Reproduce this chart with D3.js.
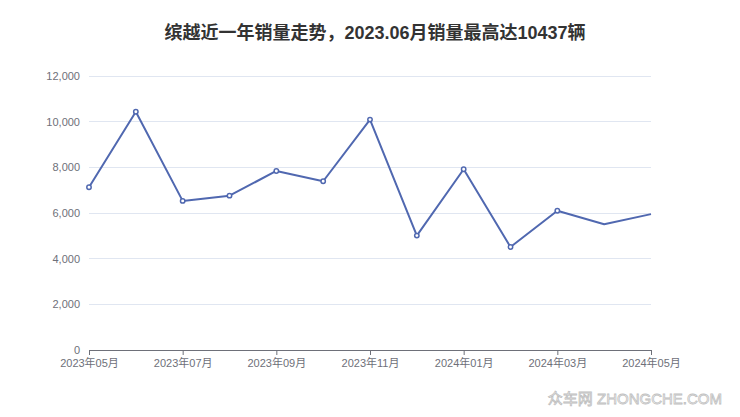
<!DOCTYPE html>
<html><head><meta charset="utf-8">
<script src="https://cdn.jsdelivr.net/npm/d3@7/dist/d3.min.js"></script>
<style>body{margin:0;background:#fff;}svg{display:block;font-family:"Liberation Sans","Noto Sans CJK SC",sans-serif;}</style>
</head><body><svg id="c" width="740" height="417"></svg>
<script>
const title = "缤越近一年销量走势，2023.06月销量最高达10437辆";
const months = ["2023年05月","2023年06月","2023年07月","2023年08月","2023年09月","2023年10月","2023年11月","2023年12月","2024年01月","2024年02月","2024年03月","2024年04月","2024年05月"];
const sales = [7130,10437,6530,6760,7840,7390,10090,5010,7915,4510,6100,5505,5950];
const showSymbol = [true,true,true,true,true,true,true,true,true,true,true,false,false];
const yTicks = [0,2000,4000,6000,8000,10000,12000];

const svg = d3.select("#c");
const m = {l:89, r:651, t:76, b:350};
const x = d3.scalePoint().domain(months).range([m.l, m.r]);
const y = d3.scaleLinear().domain([0,12000]).range([m.b, m.t]);

svg.append("text").attr("x",375).attr("y",39).attr("text-anchor","middle")
  .attr("font-size",18).attr("font-weight","bold").attr("fill","#333")
  .text(title);

// grid
svg.append("g").selectAll("line").data(yTicks.filter(d=>d>0)).join("line")
  .attr("x1",m.l).attr("x2",m.r).attr("y1",d=>y(d)).attr("y2",d=>y(d))
  .attr("stroke","#E0E6F1").attr("stroke-width",1).attr("shape-rendering","crispEdges");

// y axis labels
const yAxis = d3.axisLeft(y).tickValues(yTicks).tickSize(0).tickPadding(9).tickFormat(d3.format(","));
const gy = svg.append("g").attr("transform",`translate(${m.l},0)`).call(yAxis);
gy.select(".domain").remove();
gy.selectAll("text").attr("font-size",11).attr("fill","#6E7079").attr("font-family","Liberation Sans, sans-serif");

// x axis
const labeled = months.filter((d,i)=>i%2===0);
const xAxis = d3.axisBottom(x).tickValues(labeled).tickSize(5).tickPadding(4).tickSizeOuter(0);
const gx = svg.append("g").attr("transform",`translate(0,${m.b})`).call(xAxis);
gx.select(".domain").attr("stroke","#6E7079");
gx.selectAll(".tick line").attr("stroke","#6E7079");
gx.selectAll("text").attr("font-size",11).attr("fill","#6E7079").attr("font-family","Liberation Sans, Noto Sans CJK SC, sans-serif");

// line
const color = "#5068b0";
svg.append("path").datum(sales.map((v,i)=>[months[i],v]))
  .attr("fill","none").attr("stroke",color).attr("stroke-width",2).attr("stroke-linejoin","round")
  .attr("d", d3.line().x(d=>x(d[0])).y(d=>y(d[1])));

svg.append("g").selectAll("circle").data(sales.map((v,i)=>({m:months[i],v,s:showSymbol[i]})).filter(d=>d.s)).join("circle")
  .attr("cx",d=>x(d.m)).attr("cy",d=>y(d.v)).attr("r",2.2)
  .attr("fill","#fff").attr("stroke",color).attr("stroke-width",1.5);

// watermark
svg.append("text").attr("x",722).attr("y",404).attr("text-anchor","end")
  .attr("font-size",15).attr("fill","#fff").attr("stroke","#c0c0c0").attr("stroke-width",0.8)
  .text("众车网 ZHONGCHE.COM");
</script></body></html>
